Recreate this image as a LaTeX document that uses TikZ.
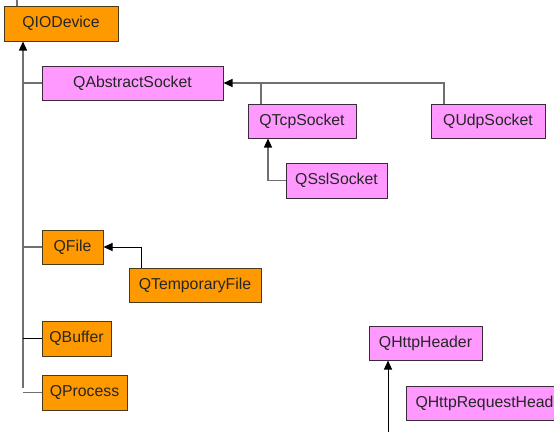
\documentclass[tikz,border=0pt]{standalone}
\usepackage{fontspec}
\setmainfont{Liberation Sans}
\usetikzlibrary{arrows.meta}
\definecolor{orangebox}{HTML}{FF9900}
\definecolor{pinkbox}{HTML}{FF99FF}
\definecolor{boxline}{HTML}{4A3A1A}
\definecolor{pinkline}{HTML}{3A2A3A}
\definecolor{conn}{HTML}{707070}
\begin{document}
\begin{tikzpicture}[x=1pt,y=-1pt,
  cls/.style={line width=1pt, inner sep=0pt, font=\fontsize{15.8}{18}\selectfont, text=black!85},
  orng/.style={cls, draw=boxline, fill=orangebox},
  pnk/.style={cls, draw=pinkline, fill=pinkbox},
  conn/.style={draw=conn, line width=1.2pt},
  blk/.style={draw=black, line width=1pt},
  tri/.style={-{Triangle[length=9pt,width=8pt,color=black]}}]
\useasboundingbox (0,0) rectangle (554,432);
\clip (0,0) rectangle (554,432);
\node[orng, minimum width=114pt, minimum height=35pt] (iodev) at (61,23.5) {QIODevice};
\node[pnk, minimum width=181pt, minimum height=34pt] (abs) at (132.5,83) {QAbstractSocket};
\node[pnk, minimum width=108pt, minimum height=34pt] (tcp) at (302,121) {QTcpSocket};
\node[pnk, minimum width=114pt, minimum height=34pt] (udp) at (488,121) {QUdpSocket};
\node[pnk, minimum width=101pt, minimum height=35pt] (ssl) at (336.5,180.5) {QSslSocket};
\node[orng, minimum width=61pt, minimum height=34pt] (file) at (72.5,247) {QFile};
\node[orng, minimum width=132pt, minimum height=34pt] (tmp) at (195,285) {QTemporaryFile};
\node[orng, minimum width=69pt, minimum height=35pt] (buf) at (76.5,338.5) {QBuffer};
\node[orng, minimum width=85pt, minimum height=35pt] (proc) at (84.5,392.5) {QProcess};
\node[pnk, minimum width=113pt, minimum height=34pt] (http) at (425.5,343) {QHttpHeader};
\node[pnk, minimum width=170pt, minimum height=34pt, anchor=west] (req) at (406,403) {QHttpRequestHeader};
% connectors
\coordinate (top) at (17,0);
\draw[conn] (top) -- (top |- iodev.north);
\coordinate (trunk) at (23,388);
\draw[conn, tri] (trunk) -- (trunk |- iodev.south);
\draw[conn] (trunk |- abs.west) -- (abs.west);
\draw[conn] (trunk |- file.west) -- (file.west);
\draw[blk] (trunk |- buf.west) -- (buf.west);
\draw[conn] (trunk |- proc.west) -- (proc.west);
\draw[conn, tri] ([xshift=-44pt]udp.north) |- (abs.east);
\draw[conn] ([xshift=-41pt]tcp.north) -- ([xshift=-41pt]tcp.north |- abs.east);
\draw[conn, tri] (ssl.west) -| ([xshift=-34pt]tcp.south);
\draw[blk, tri] ([xshift=-54pt]tmp.north) |- (file.east);
\coordinate (hb) at (388,432);
\draw[blk, tri] (hb) -- (hb |- http.south);
\end{tikzpicture}
\end{document}
